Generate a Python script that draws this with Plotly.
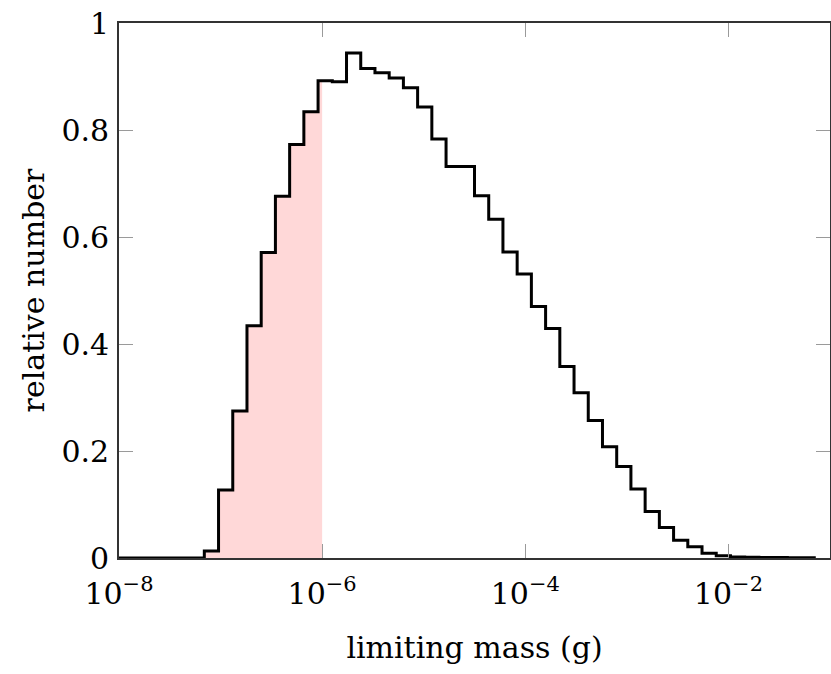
import plotly.graph_objects as go

# ---- data ----
log_start = -8.0          # first bin edge, log10(g)
log_bin_width = 0.14      # bin width in decades
shade_limit = 1e-6        # shaded region upper limit (g)

relative_number = [
    0.0, 0.0, 0.0, 0.0, 0.0, 0.0,
    0.013, 0.127, 0.275, 0.434, 0.571, 0.676, 0.773, 0.834,
    0.892, 0.890, 0.944, 0.915, 0.907, 0.897, 0.879, 0.843,
    0.783, 0.732, 0.732, 0.677, 0.633, 0.572, 0.531, 0.470,
    0.429, 0.358, 0.309, 0.257, 0.208, 0.171, 0.129, 0.087,
    0.057, 0.033, 0.021, 0.009, 0.004, 0.002, 0.0015, 0.001,
    0.001, 0.0005, 0.0005,
]

x_tick_vals = [1e-8, 1e-6, 1e-4, 1e-2]
x_tick_text = ["10<sup>−8</sup>", "10<sup>−6</sup>", "10<sup>−4</sup>", "10<sup>−2</sup>"]
y_tick_vals = [0, 0.2, 0.4, 0.6, 0.8, 1]
y_tick_text = ["0", "0.2", "0.4", "0.6", "0.8", "1"]

# ---- build step coordinates ----
n = len(relative_number)
edges = [10 ** (log_start + log_bin_width * k) for k in range(n + 1)]
step_x = edges
step_y = relative_number + [relative_number[-1]]

fill_x = [e for e in edges if e < shade_limit]
fill_y = relative_number[:len(fill_x)]
fill_x = fill_x + [shade_limit]
fill_y = fill_y + [fill_y[-1]]

FONT = "DejaVu Serif"

fig = go.Figure()
fig.add_trace(go.Scatter(
    x=fill_x, y=fill_y, mode="lines", line=dict(width=0, shape="hv"),
    fill="tozeroy", fillcolor="rgb(255,216,216)", hoverinfo="skip",
    showlegend=False,
))
fig.add_trace(go.Scatter(
    x=step_x, y=step_y, mode="lines",
    line=dict(color="black", width=3, shape="hv"),
    cliponaxis=False, showlegend=False,
))

fig.update_layout(
    width=831, height=674,
    margin=dict(l=119, r=1, t=23, b=116),
    paper_bgcolor="white", plot_bgcolor="white",
    font=dict(family=FONT, size=30, color="black"),
    xaxis=dict(
        type="log", range=[-8, -1],
        tickvals=x_tick_vals, ticktext=x_tick_text,
        ticks="inside", ticklen=14, tickwidth=1.2, tickcolor="#9a9a9a",
        showline=True, linecolor="#333", linewidth=1.6, mirror="allticks",
        showgrid=False, zeroline=False,
        ticklabelstandoff=8, ticklabeloverflow="allow",
        title=dict(text="limiting mass (g)", standoff=27,
                   font=dict(family=FONT, size=30)),
        automargin=False,
    ),
    yaxis=dict(
        range=[0, 1],
        tickvals=y_tick_vals, ticktext=y_tick_text,
        ticks="inside", ticklen=14, tickwidth=1.2, tickcolor="#9a9a9a",
        showline=True, linecolor="#333", linewidth=1.6, mirror="allticks",
        showgrid=False, zeroline=False,
        ticklabelstandoff=2, ticklabeloverflow="allow",
        title=dict(text="relative number", standoff=8,
                   font=dict(family=FONT, size=30)),
        automargin=False,
    ),
)

# remove the default page margin so the figure sits at the window's corner
fig.write_html("out.html", config={"displayModeBar": False},
               post_script="document.body.style.margin='0';")
